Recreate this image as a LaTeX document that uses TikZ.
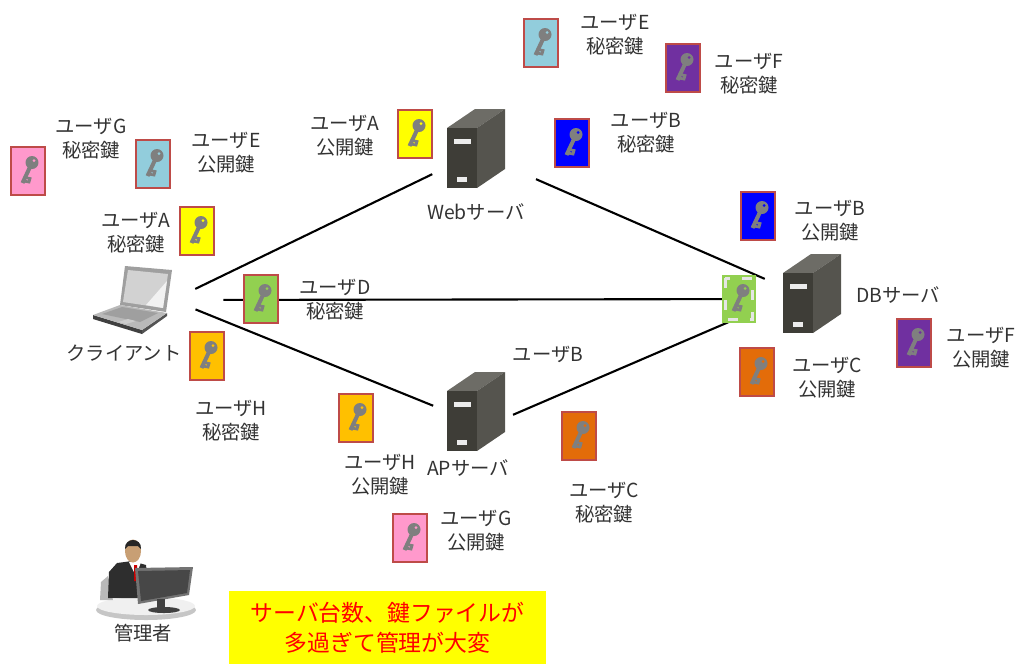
\documentclass[tikz,border=0pt]{standalone}
\usepackage{fontspec}
\setmainfont{Noto Sans CJK JP}
\usetikzlibrary{positioning}

\definecolor{keypink}{HTML}{FF99CC}
\definecolor{keycyan}{HTML}{92CDDC}
\definecolor{keyyellow}{HTML}{FFFF00}
\definecolor{keyblue}{HTML}{0000FF}
\definecolor{keypurple}{HTML}{7030A0}
\definecolor{keygreen}{HTML}{92D050}
\definecolor{keyamber}{HTML}{FFC000}
\definecolor{keyorange}{HTML}{E36C09}
\definecolor{cardedge}{HTML}{BE4B48}
\definecolor{keygray}{HTML}{7F7F7F}
\definecolor{srvfront}{HTML}{3E3D37}
\definecolor{srvside}{HTML}{55544E}
\definecolor{srvtop}{HTML}{6D6C66}
\definecolor{skin}{HTML}{C89F74}

\begin{document}
\begin{tikzpicture}[
  x=0.02cm, y=-0.02cm,
  txt/.style={align=center, inner sep=0pt, text=black!80,
    font=\fontsize{11}{13.6}\selectfont},
  msgbox/.style={fill=keyyellow, text=red, align=center, inner sep=0pt,
    minimum width=63.4mm, minimum height=14.6mm,
    font=\fontsize{13}{17}\selectfont},
  hostbox/.style={inner sep=0pt, minimum width=11.4mm, minimum height=16mm},
  keycard/.style={draw=cardedge, line width=0.6pt, fill=#1, inner sep=0pt,
    minimum width=6.8mm, minimum height=9.6mm,
    path picture={
      \begin{scope}[shift={(path picture bounding box.center)}]
        \fill[keygray] (4,-8.5) circle (1.3mm);
        \fill[#1] (6,-10.5) circle (0.3mm);
        \draw[keygray, line width=0.8mm] (2,-4) -- (-5.5,12);
        \draw[keygray, line width=0.55mm] (-3,6.5) -- (2,7.5) -- (1,11) -- (-4.5,10);
      \end{scope}}},
  selmark/.style={draw=white!80!gray, line width=0.5mm, dash pattern=on 2mm off 2.4mm},
  link/.style={draw=black, line width=1.2pt},
  server/.pic={
    \fill[srvtop] (0,0) -- (28,-19) -- (58,-19) -- (30,0) -- cycle;
    \fill[srvside] (30,0) -- (58,-19) -- (58,41) -- (30,60) -- cycle;
    \fill[srvfront] (0,0) rectangle (30,60);
    \fill[white!85!gray] (7,11) rectangle (24,16);
    \fill[white!85!gray] (10,49) rectangle (20,54);
  },
  laptop/.pic={
    \fill[gray!75] (-7,-34) -- (40,-30) -- (34,12) -- (-12,5) -- cycle;
    \fill[gray!35] (-4,-30) -- (36,-26) -- (31,8) -- (-9,2) -- cycle;
    \fill[white!90!gray] (14,5) -- (31,8) -- (35,-19) -- cycle;
    \fill[gray!50!black] (-39,15) -- (10,30) -- (10,34) -- (-39,19) -- cycle;
    \fill[gray!65!black] (10,30) -- (35,13) -- (35,16) -- (10,34) -- cycle;
    \fill[gray!55] (-39,15) -- (-12,5) -- (35,13) -- (10,30) -- cycle;
    \fill[gray!75] (-30,14) -- (-10,7) -- (26,13) -- (8,22) -- cycle;
    \fill[gray!40] (-14,22) -- (-4,19) -- (4,21) -- (-6,24) -- cycle;
  },
  admin/.pic={
    \fill[gray!45] (0,20) ellipse (10mm and 2mm);
    \fill[gray!12] (0,16) ellipse (9.8mm and 1.8mm);
    \fill[gray!55] (-46,10) -- (-45,-8) -- (-38,-14) -- (-33,10) -- cycle;
    \fill[black!82] (-38,8) -- (-37,-18) -- (-29,-27) -- (-14,-29) -- (0,-25) -- (4,8) -- cycle;
    \fill[white] (-17,-28) -- (-10,-14) -- (-5,-28) -- cycle;
    \fill[red!80!black] (-12,-25) -- (-9,-25) -- (-8,-9) -- (-12,-9) -- cycle;
    \fill[skin] (-13,-39) ellipse (1.6mm and 2.3mm);
    \fill[black!85] (-21,-41) .. controls (-22,-53) and (-4,-53) .. (-5,-41)
      -- (-8,-44) -- (-18,-44) -- cycle;
    \fill[black!55] (-11,-22) -- (47,-23) -- (43,5) -- (-8,14) -- cycle;
    \fill[black!72] (-8,-19) -- (44,-20) -- (41,3) -- (-5,11) -- cycle;
    \fill[black!75] (11,9) rectangle (19,18);
    \fill[black!75] (18,20) ellipse (3.2mm and 0.6mm);
  }
]
  \useasboundingbox (0,0) rectangle (1016,664);

  % devices
  \node[hostbox, minimum width=16mm, minimum height=13.6mm] (client) at (132,300) {};
  \node[hostbox] (web) at (476,153) {};
  \node[hostbox] (db) at (811,299) {};
  \node[hostbox] (ap) at (475,411) {};
  \node[hostbox] (adm) at (146,590) {};
  \pic at (client) {laptop};
  \pic at (447,128) {server};
  \pic at (783,273) {server};
  \pic at (447,391) {server};
  \pic at (adm) {admin};

  \node[txt] (lcl) at (124,353) {クライアント};
  \node[txt] (lweb) at (476,212) {Webサーバ};
  \node[txt] (ldb) at (898,295) {DBサーバ};
  \node[txt] (lap) at (468,468) {APサーバ};
  \node[txt] (ladm) at (143,633) {管理者};

  % network
  \draw[link, shorten <=5.1mm, shorten >=3.3mm] (client.east) -- (web);
  \draw[link, shorten <=6.8mm, shorten >=3.8mm] (web) -- (db);
  \draw[link, shorten <=10.2mm, shorten >=8.4mm] (client.east) -- (db.west);
  \draw[link, shorten <=5mm, shorten >=2.8mm] (client.east) -- (ap.west);
  \draw[link, shorten <=2mm, shorten >=10.3mm] (ap.-15) -- (db.west);

  % key files
  \node[keycard=keypink] (kGs) at (28,171) {};
  \node[keycard=keycyan] (kEp) at (153,164) {};
  \node[keycard=keyyellow] (kAs) at (197,231) {};
  \node[keycard=keyyellow] (kAp) at (415,134) {};
  \node[keycard=keycyan] (kEs) at (541,43) {};
  \node[keycard=keypurple] (kFs) at (683,68) {};
  \node[keycard=keyblue] (kBs) at (572,143) {};
  \node[keycard=keyblue] (kBp) at (758,216) {};
  \node[keycard=keygreen] (kDs) at (261,299) {};
  \node[keycard=keygreen, draw=none] (kDdb) at (739,299) {};
  \draw[selmark] ([shift={(4,4)}]kDdb.north west) rectangle ([shift={(-4,-4)}]kDdb.south east);
  \node[keycard=keypurple] (kFp) at (914,343) {};
  \node[keycard=keyamber] (kHs) at (207,356) {};
  \node[keycard=keyorange] (kCp) at (757,372) {};
  \node[keycard=keyamber] (kHp) at (356,418) {};
  \node[keycard=keyorange] (kCs) at (579,436) {};
  \node[keycard=keypink] (kGp) at (410,538) {};

  \node[txt] (lGs) at (91,139) {ユーザG\\秘密鍵};
  \node[txt] (lEp) at (226,153) {ユーザE\\公開鍵};
  \node[txt] (lAs) at (136,233) {ユーザA\\秘密鍵};
  \node[txt] (lAp) at (345,136) {ユーザA\\公開鍵};
  \node[txt] (lEs) at (615,35) {ユーザE\\秘密鍵};
  \node[txt] (lFs) at (749,74) {ユーザF\\秘密鍵};
  \node[txt] (lBs) at (646,133) {ユーザB\\秘密鍵};
  \node[txt] (lBp) at (830,221) {ユーザB\\公開鍵};
  \node[txt] (lFp) at (981,348) {ユーザF\\公開鍵};
  \node[txt] (lCp) at (827,378) {ユーザC\\公開鍵};
  \node[txt] (lDs) at (335,300) {ユーザD\\秘密鍵};
  \node[txt] (lHs) at (231,421) {ユーザH\\秘密鍵};
  \node[txt] (lB) at (548,354) {ユーザB};
  \node[txt] (lHp) at (380,475) {ユーザH\\公開鍵};
  \node[txt] (lCs) at (604,503) {ユーザC\\秘密鍵};
  \node[txt] (lGp) at (476,531) {ユーザG\\公開鍵};

  \node[msgbox] (msg) at (387.5,627.5) {サーバ台数、鍵ファイルが\\多過ぎて管理が大変};
\end{tikzpicture}
\end{document}
